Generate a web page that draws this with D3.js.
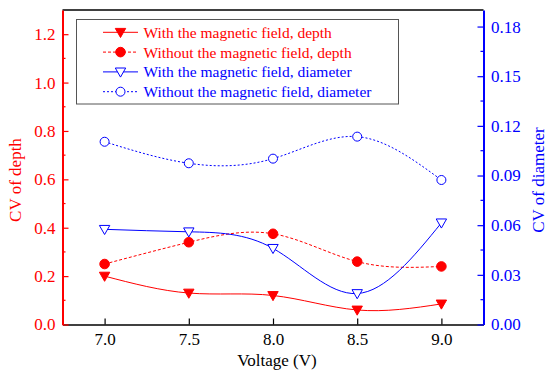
<!DOCTYPE html>
<html lang="en">
<head>
<meta charset="UTF-8">
<title>CV vs Voltage</title>
<script src="https://cdn.jsdelivr.net/npm/d3@7/dist/d3.min.js"></script>
<style>
    body { margin: 0; background: #fff; }
    text { font-family: "Liberation Serif", "Times New Roman", Times, serif; }
</style>
</head>
<body>
<div id="vis"></div>
<script>
// data
const voltage = [7.0, 7.5, 8.0, 8.5, 9.0];
const depthWith = [0.20, 0.13, 0.12, 0.06, 0.085];
const depthWithout = [0.25, 0.34, 0.375, 0.26, 0.24];
const diamWith = [0.0575, 0.056, 0.046, 0.0187, 0.0614];
const diamWithout = [0.1104, 0.0974, 0.1002, 0.1135, 0.0873];
const xTicks = [7.0, 7.5, 8.0, 8.5, 9.0];
const yLeftTicks = [0.0, 0.2, 0.4, 0.6, 0.8, 1.0, 1.2];
const yRightTicks = [0.00, 0.03, 0.06, 0.09, 0.12, 0.15, 0.18];
const legendLabels = [
    "With the magnetic field, depth",
    "Without the magnetic field, depth",
    "With the magnetic field, diameter",
    "Without the magnetic field, diameter"
];

const width = 550, height = 375;
const pLeft = 62.5, pRight = 483.5, pTop = 10, pBottom = 324.5;
const red = "#ff0000", blue = "#0000ff";

let svg = d3.select("#vis").append("svg")
    .attr("width", width)
    .attr("height", height);

let x = d3.scaleLinear().domain([6.75, 9.25]).range([pLeft, pRight]);
let yL = d3.scaleLinear().domain([0, 1.3]).range([pBottom, pTop]);
let yR = d3.scaleLinear().domain([0, 0.19]).range([pBottom, pTop]);

// series
let series = [
    {vals: depthWith, scale: yL, color: red, dash: null, marker: "tri", fill: true},
    {vals: depthWithout, scale: yL, color: red, dash: "3,2", marker: "circle", fill: true},
    {vals: diamWith, scale: yR, color: blue, dash: null, marker: "tri", fill: false},
    {vals: diamWithout, scale: yR, color: blue, dash: "2,2", marker: "circle", fill: false}
];

function drawMarker(g, type, cx, cy, color, fill) {
    if (type === "tri") {
        let s = 5.2;
        g.append("path")
            .attr("d", "M" + (cx - s) + "," + (cy - s * 0.75) + "L" + (cx + s) + "," + (cy - s * 0.75) + "L" + cx + "," + (cy + s * 1.0) + "Z")
            .attr("fill", fill ? color : "#fff")
            .attr("stroke", color)
            .attr("stroke-width", 1);
    } else {
        g.append("circle")
            .attr("cx", cx).attr("cy", cy)
            .attr("r", fill ? 4.8 : 4.5)
            .attr("fill", fill ? color : "#fff")
            .attr("stroke", color)
            .attr("stroke-width", 1);
    }
}

let lineLayer = svg.append("g");
let markLayer = svg.append("g");
series.forEach(function (s) {
    let line = d3.line()
        .x(function (d, i) { return x(voltage[i]); })
        .y(function (d) { return s.scale(d); })
        .curve(d3.curveNatural);
    lineLayer.append("path")
        .datum(s.vals)
        .attr("fill", "none")
        .attr("stroke", s.color)
        .attr("stroke-width", 1)
        .attr("stroke-dasharray", s.dash)
        .attr("d", line);
    s.vals.forEach(function (v, i) {
        drawMarker(markLayer, s.marker, x(voltage[i]), s.scale(v), s.color, s.fill);
    });
});

// frame: top line
svg.append("line")
    .attr("x1", pLeft).attr("x2", pRight).attr("y1", pTop).attr("y2", pTop)
    .attr("stroke", "#000").attr("stroke-width", 1.5);

// bottom axis
let xAxis = svg.append("g")
    .attr("transform", "translate(0," + pBottom + ")")
    .call(d3.axisBottom(x).tickValues(xTicks).tickFormat(d3.format(".1f")).tickSizeInner(-6).tickSizeOuter(0).tickPadding(8));
xAxis.select(".domain").attr("stroke", "#000").attr("stroke-width", 1.5);
xAxis.selectAll(".tick line").attr("stroke", "#000").attr("stroke-width", 1.2);
xAxis.selectAll("text").attr("font-size", "17px").attr("fill", "#000")
    .attr("font-family", "Liberation Serif");

// left axis
let leftAxis = svg.append("g")
    .attr("transform", "translate(" + pLeft + ",0)")
    .call(d3.axisLeft(yL).tickValues(yLeftTicks).tickFormat(d3.format(".1f")).tickSizeInner(-6).tickSizeOuter(0).tickPadding(7));
leftAxis.select(".domain").attr("stroke", red).attr("stroke-width", 2);
leftAxis.selectAll(".tick line").attr("stroke", red).attr("stroke-width", 1.2);
leftAxis.selectAll("text").attr("font-size", "17px").attr("fill", red)
    .attr("font-family", "Liberation Serif");
let leftMinor = d3.range(0.1, 1.3, 0.2);
svg.append("g").selectAll("line").data(leftMinor).join("line")
    .attr("x1", pLeft).attr("x2", pLeft + 3)
    .attr("y1", function (d) { return yL(d); }).attr("y2", function (d) { return yL(d); })
    .attr("stroke", red).attr("stroke-width", 1.2);

// right axis
let rightAxis = svg.append("g")
    .attr("transform", "translate(" + pRight + ",0)")
    .call(d3.axisRight(yR).tickValues(yRightTicks).tickFormat(d3.format(".2f")).tickSizeInner(-6).tickSizeOuter(0).tickPadding(7.5));
rightAxis.select(".domain").attr("stroke", blue).attr("stroke-width", 2);
rightAxis.selectAll(".tick line").attr("stroke", blue).attr("stroke-width", 1.2);
rightAxis.selectAll("text").attr("font-size", "17px").attr("fill", blue)
    .attr("font-family", "Liberation Serif");
let rightMinor = d3.range(0.015, 0.19, 0.03);
svg.append("g").selectAll("line").data(rightMinor).join("line")
    .attr("x1", pRight).attr("x2", pRight - 3)
    .attr("y1", function (d) { return yR(d); }).attr("y2", function (d) { return yR(d); })
    .attr("stroke", blue).attr("stroke-width", 1.2);

// axis titles
svg.append("text")
    .attr("x", (pLeft + pRight) / 2 + 4).attr("y", 366)
    .attr("text-anchor", "middle")
    .attr("font-size", "17px")
    .text("Voltage (V)");
svg.append("text")
    .attr("transform", "translate(21,180) rotate(-90)")
    .attr("text-anchor", "middle")
    .attr("font-size", "17px")
    .attr("fill", red)
    .text("CV of depth");
svg.append("text")
    .attr("transform", "translate(544,180) rotate(-90)")
    .attr("text-anchor", "middle")
    .attr("font-size", "17px")
    .attr("fill", blue)
    .text("CV of diameter");

// legend
let legend = svg.append("g");
legend.append("rect")
    .attr("x", 76.5).attr("y", 19.5)
    .attr("width", 322).attr("height", 84.5)
    .attr("fill", "#fff")
    .attr("stroke", "#555").attr("stroke-width", 1);
series.forEach(function (s, i) {
    let cy = 32.3 + i * 19.8;
    legend.append("line")
        .attr("x1", 103).attr("x2", 138)
        .attr("y1", cy).attr("y2", cy)
        .attr("stroke", s.color).attr("stroke-width", 1)
        .attr("stroke-dasharray", s.dash);
    drawMarker(legend, s.marker, 120.5, cy, s.color, s.fill);
    legend.append("text")
        .attr("x", 143.5).attr("y", cy + 5.5)
        .attr("font-size", "15.5px")
        .attr("fill", s.color)
        .text(legendLabels[i]);
});
</script>
</body>
</html>
